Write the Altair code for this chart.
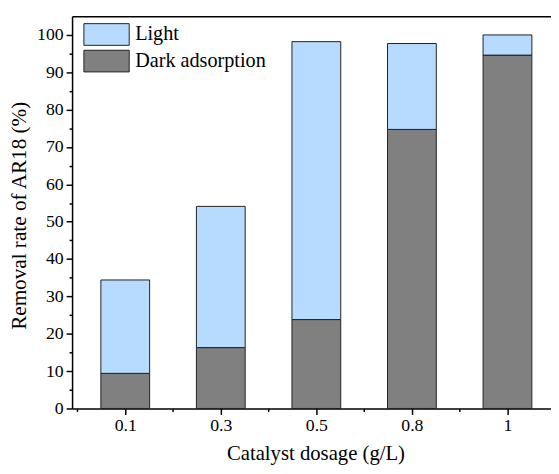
import altair as alt
import pandas as pd

# ---- data ----
dosage = ["0.1", "0.3", "0.5", "0.8", "1"]
dark = [9.4, 16.3, 23.8, 74.7, 94.6]
total = [34.4, 54.1, 98.2, 97.7, 100.0]
series = ["Light", "Dark adsorption"]
colors = ["#B7DBFF", "#808080"]

rows = []
for i, d in enumerate(dosage):
    rows.append({"idx": i, "dosage": d, "series": "Dark adsorption", "y0": 0.0, "y1": dark[i]})
    rows.append({"idx": i, "dosage": d, "series": "Light", "y0": dark[i], "y1": total[i]})
df = pd.DataFrame(rows)

FONT = "Liberation Serif"
label_expr = "datum.value % 1 === 0 ? " + str(dosage) + "[datum.value] : ''"
x_ticks = [v / 2 for v in range(-1, 9)]
y_ticks = list(range(0, 101, 5))

x_scale = alt.Scale(domain=[-0.505, 4.404], nice=False, zero=False)
y_scale = alt.Scale(domain=[0, 105], nice=False)

x_axis = alt.Axis(
    values=x_ticks, labelExpr=label_expr, title="Catalyst dosage (g/L)",
    grid=False, labelFont=FONT, labelFontSize=18, labelColor="black",
    labelPadding=2, labelOverlap=False,
    tickSize={"condition": {"test": "datum.value % 1 !== 0", "value": 3}, "value": 6},
    tickColor="black", tickWidth=1.5, domainColor="black", domainWidth=1.5,
    titleFont=FONT, titleFontSize=21, titleFontWeight="normal", titleColor="black",
    titleX=247, titleY=52, titleAlign="center", titleBaseline="alphabetic",
)
y_axis = alt.Axis(
    values=y_ticks, labelExpr="datum.value % 10 === 0 ? datum.label : ''",
    title="Removal rate of AR18 (%)", grid=False,
    labelFont=FONT, labelFontSize=18, labelColor="black", labelPadding=3,
    labelOverlap=False,
    tickSize={"condition": {"test": "datum.value % 10 !== 0", "value": 3}, "value": 6},
    tickColor="black", tickWidth=1.5, domainColor="black", domainWidth=1.5,
    titleFont=FONT, titleFontSize=21.5, titleFontWeight="normal", titleColor="black",
    titleX=-53, titleY=202, titleAngle=-90, titleAlign="center", titleBaseline="middle",
)

bars = alt.Chart(df).mark_bar(size=49.5, stroke="#222", strokeWidth=1).encode(
    x=alt.X("idx:Q", scale=x_scale, axis=x_axis),
    y=alt.Y("y0:Q", scale=y_scale, axis=y_axis),
    y2="y1:Q",
    color=alt.Color(
        "series:N",
        scale=alt.Scale(domain=series, range=colors),
        legend=alt.Legend(
            title=None, orient="none", legendX=23.5, legendY=7, padding=0,
            symbolType="M-2.09,-1H2.09V1H-2.09Z", symbolSize=484,
            symbolStrokeColor="#222", symbolStrokeWidth=1, symbolOpacity=1,
            labelFont=FONT, labelFontSize=20.5, labelColor="black", labelOffset=17.5,
            rowPadding=0,
        ),
    ),
)

top = alt.Chart(df).mark_bar(opacity=0, size=1).encode(
    x=alt.X("idx:Q", scale=x_scale,
            axis=alt.Axis(orient="top", labels=False, ticks=False, title=None,
                          grid=False, domainColor="black", domainWidth=1.5)),
)

chart = alt.layer(bars, top).resolve_axis(x="independent").properties(
    width=486, height=398,
    autosize=alt.AutoSizeParams(type="none"),
    padding={"left": 65, "top": 5, "right": 0, "bottom": 55},
).configure(font=FONT).configure_view(stroke=None).configure_axis(
    labelFont=FONT, titleFont=FONT
).configure_legend(labelFont=FONT)

chart.save("out.html", embed_options={"renderer": "svg", "actions": False})
